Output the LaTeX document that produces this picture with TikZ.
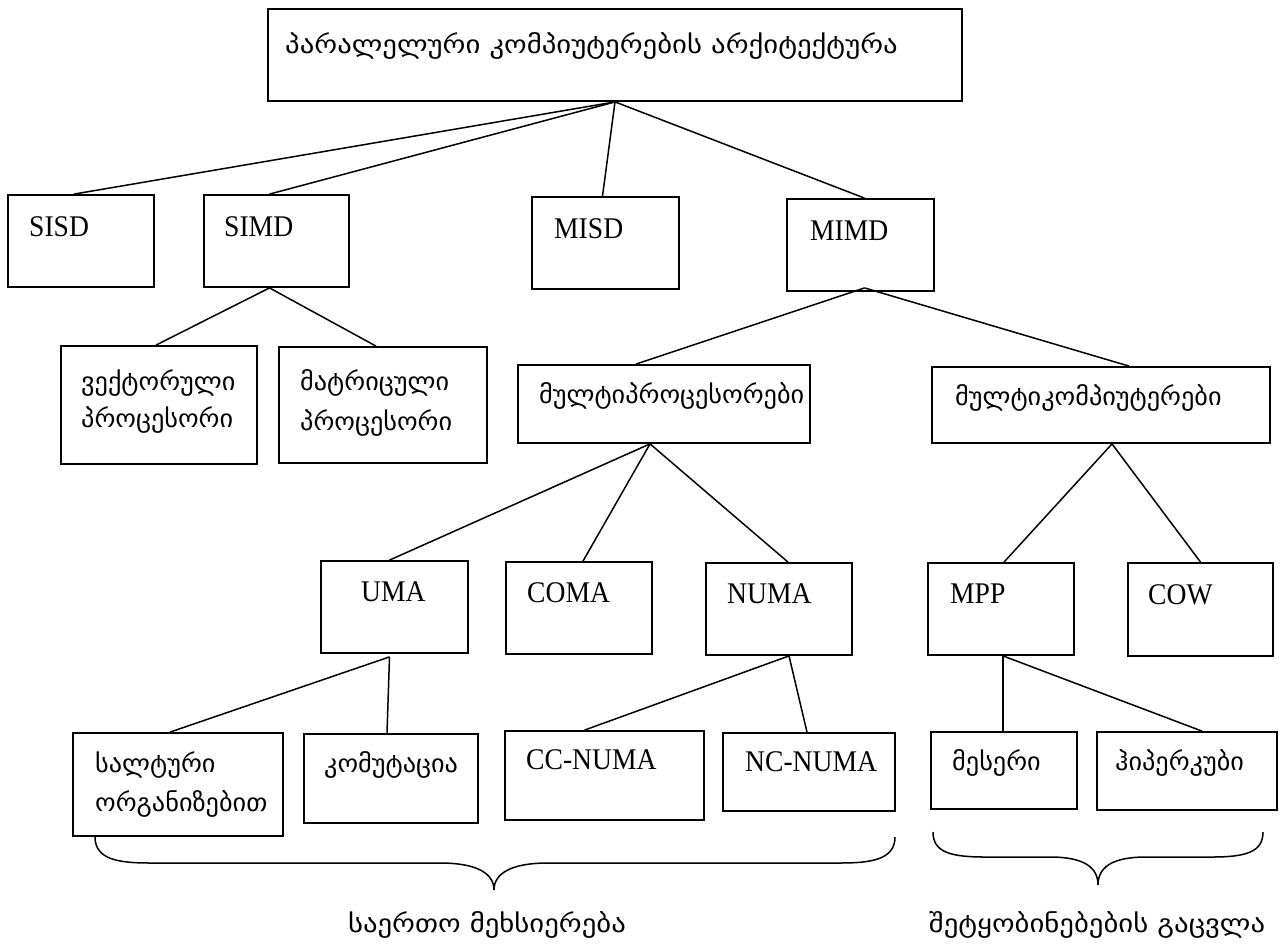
\documentclass[tikz,border=0pt]{standalone}
\usepackage{fontspec}
\setmainfont{Liberation Serif}[FakeStretch=0.92]
\newfontfamily\geo{DejaVu Sans}[FakeStretch=1.05]
\newfontfamily\geowide{DejaVu Sans}[FakeStretch=1.15]
\usetikzlibrary{fit}

\tikzset{
  box/.style={draw, line width=1.8pt, inner sep=0pt},
  link/.style={line width=1.5pt},
  lat/.style={anchor=base west, inner sep=0pt, font=\fontsize{30}{32}\selectfont},
  geotxt/.style={anchor=base west, inner sep=0pt, font=\geo\fontsize{25}{28}\selectfont},
  geotitle/.style={anchor=base west, inner sep=0pt, font=\geowide\fontsize{25}{28}\selectfont},
  geolabel/.style={anchor=base, inner sep=0pt, font=\geowide\fontsize{25}{28}\selectfont},
  brace/.style={line width=1.5pt},
}

\begin{document}
\begin{tikzpicture}[x=1pt,y=-1pt]
\useasboundingbox (0,0) rectangle (1282,946);

% ---- boxes ----
\node[box, fit={(268,9) (962,101)}] (top) {};
\node[box, fit={(8,195) (154,287)}] (sisd) {};
\node[box, fit={(204,195) (349,287)}] (simd) {};
\node[box, fit={(532,197) (679,289)}] (misd) {};
\node[box, fit={(787,199) (934,291)}] (mimd) {};
\node[box, fit={(61,346) (257,464)}] (vect) {};
\node[box, fit={(279,347) (487,463)}] (matr) {};
\node[box, fit={(518,365) (810,443)}] (mproc) {};
\node[box, fit={(932,367) (1270,443)}] (mcomp) {};
\node[box, fit={(321,561) (468,653)}] (uma) {};
\node[box, fit={(506,562) (652,654)}] (coma) {};
\node[box, fit={(706,563) (852,655)}] (numa) {};
\node[box, fit={(928,563) (1074,655)}] (mpp) {};
\node[box, fit={(1128,563) (1273,656)}] (cow) {};
\node[box, fit={(73,733) (283,836)}] (bus) {};
\node[box, fit={(304,734) (478,823)}] (sw) {};
\node[box, fit={(505,731) (704,820)}] (ccnuma) {};
\node[box, fit={(723,733) (895,811)}] (ncnuma) {};
\node[box, fit={(931,732) (1077,809)}] (mesh) {};
\node[box, fit={(1097,732) (1277,810)}] (hcube) {};

% ---- texts ----
\node[geotitle] (topt) at (285,53) {პარალელური კომპიუტერების არქიტექტურა};
\node[lat] (sisdt) at (29,236) {SISD};
\node[lat] (simdt) at (224,236) {SIMD};
\node[lat] (misdt) at (554,238) {MISD};
\node[lat] (mimdt) at (810,240) {MIMD};
\node[geotxt] (vectt1) at (81,390) {ვექტორული};
\node[geotxt] (vectt2) at (81,427) {პროცესორი};
\node[geotxt] (matrt1) at (300,390) {მატრიცული};
\node[geotxt] (matrt2) at (300,430) {პროცესორი};
\node[geotxt] (mproct) at (539,403) {მულტიპროცესორები};
\node[geotxt] (mcompt) at (955,405) {მულტიკომპიუტერები};
\node[lat] (umat) at (361,601) {UMA};
\node[lat] (comat) at (527,602) {COMA};
\node[lat] (numat) at (727,603) {NUMA};
\node[lat] (mppt) at (950,603) {MPP};
\node[lat] (cowt) at (1148,604) {COW};
\node[geotxt] (bust1) at (95,772) {სალტური};
\node[geotxt] (bust2) at (95,811) {ორგანიზებით};
\node[geotxt] (swt) at (324,772) {კომუტაცია};
\node[lat] (ccnumat) at (526,769) {CC-NUMA};
\node[lat] (ncnumat) at (745,771) {NC-NUMA};
\node[geotxt] (mesht) at (952,770) {მესერი};
\node[geotxt] (hcubet) at (1115,770) {ჰიპერკუბი};
\node[geolabel] (shared) at (487,932) {საერთო მეხსიერება};
\node[geolabel] (msgpass) at (1097,932) {შეტყობინებების გაცვლა};

% ---- connectors ----
\draw[link] (top.south) -- ([xshift=-7pt]sisd.north);
\draw[link] (top.south) -- ([xshift=-7pt]simd.north);
\draw[link] (top.south) -- ([xshift=-3pt]misd.north);
\draw[link] (top.south) -- ([xshift=4pt]mimd.north);

\draw[link] ([xshift=-7pt]simd.south) -- ([xshift=-3pt]vect.north);
\draw[link] ([xshift=-7pt]simd.south) -- ([xshift=-7pt]matr.north);

\draw[link] ([xshift=4pt,yshift=4pt]mimd.south) -- ([xshift=-28pt]mproc.north);
\draw[link] ([xshift=4pt,yshift=4pt]mimd.south) -- ([xshift=28pt]mcomp.north);

\draw[link] ([xshift=-14pt]mproc.south) -- ([xshift=-5pt]uma.north);
\draw[link] ([xshift=-14pt]mproc.south) -- ([xshift=4pt]coma.north);
\draw[link] ([xshift=-14pt]mproc.south) -- ([xshift=9pt]numa.north);

\draw[link] ([xshift=11pt]mcomp.south) -- ([xshift=3pt]mpp.north);
\draw[link] ([xshift=11pt]mcomp.south) -- (cow.north);

\draw[link] ([xshift=-5pt,yshift=-3pt]uma.south) -- ([xshift=-8pt]bus.north);
\draw[link] ([xshift=-5pt,yshift=-3pt]uma.south) -- ([xshift=-4pt]sw.north);

\draw[link] ([xshift=10pt]numa.south) -- ([xshift=-20pt]ccnuma.north);
\draw[link] ([xshift=10pt]numa.south) -- ([xshift=-2pt]ncnuma.north);

\draw[link] ([xshift=2pt]mpp.south) -- ([xshift=-1pt]mesh.north);
\draw[link] ([xshift=2pt]mpp.south) -- ([xshift=15pt]hcube.north);

% ---- braces ----
\draw[brace] (95,837) .. controls (95,860) and (120,863) .. (150,863)
  -- (440,863) .. controls (478,863) and (494,874) .. (494,890)
  .. controls (494,874) and (510,863) .. (548,863)
  -- (840,863) .. controls (870,863) and (895,860) .. (895,837);
\draw[brace] (933,832) .. controls (933,852) and (950,857) .. (985,857)
  -- (1050,857) .. controls (1085,857) and (1098,868) .. (1098,885)
  .. controls (1098,868) and (1111,857) .. (1146,857)
  -- (1212,857) .. controls (1246,857) and (1263,852) .. (1263,832);
\end{tikzpicture}
\end{document}
